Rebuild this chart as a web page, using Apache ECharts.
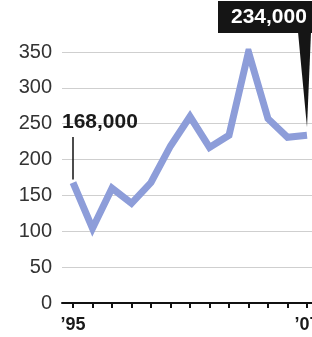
<!DOCTYPE html>
<html>
<head>
<meta charset="utf-8">
<script src="https://cdn.jsdelivr.net/npm/echarts@6/dist/echarts.min.js"></script>
<style>
  html, body { margin: 0; padding: 0; background: #fff; }
  #chart { width: 312px; height: 337px; }
</style>
</head>
<body>
<div id="chart"></div>
<script>
// data (thousands)
const years = ['1995', '1996', '1997', '1998', '1999', '2000', '2001', '2002', '2003', '2004', '2005', '2006', '2007'];
const values = [168, 104, 160, 139, 168, 219, 260, 217, 234, 350, 257, 231, 234];
const yTicks = [0, 50, 100, 150, 200, 250, 300, 350];
const callouts = ['168,000', '234,000'];

const FONT = '"Liberation Sans", Arial, sans-serif';
const chart = echarts.init(document.getElementById('chart'));

chart.setOption({
  animation: false,
  grid: [
    // grid 0: gridlines + y labels + base axis line, full width
    { left: 62, right: 0, top: 52, bottom: 34, containLabel: false, outerBoundsMode: 'none' },
    // grid 1: the data, first/last year inset
    { left: 73, right: 5, top: 52, bottom: 34, containLabel: false, outerBoundsMode: 'none' }
  ],
  xAxis: [
    {
      gridIndex: 0, type: 'value', min: 0, max: 1,
      axisLine: { show: true, onZero: false, lineStyle: { color: '#111', width: 2 } },
      axisTick: { show: false }, axisLabel: { show: false }, splitLine: { show: false }
    },
    {
      gridIndex: 1, type: 'category', data: years, boundaryGap: false,
      axisLine: { show: false },
      axisTick: { show: true, length: 5, alignWithLabel: true, interval: 0, lineStyle: { color: '#111', width: 2 } },
      axisLabel: {
        interval: (i) => i === 0 || i === years.length - 1,
        formatter: (v) => '\u2019' + v.slice(2),
        fontFamily: FONT, fontWeight: 'bold', fontSize: 18, color: '#1a1a1a', margin: 13
      },
      splitLine: { show: false }
    }
  ],
  yAxis: [
    {
      gridIndex: 0, type: 'value', min: yTicks[0], max: yTicks[yTicks.length - 1], interval: 50,
      axisLine: { show: false }, axisTick: { show: false },
      axisLabel: { fontFamily: FONT, fontSize: 20, color: '#333', margin: 10 },
      splitLine: { lineStyle: { color: '#cfcfcf', width: 1 } }
    },
    {
      gridIndex: 1, type: 'value', min: yTicks[0], max: yTicks[yTicks.length - 1], interval: 50,
      show: false
    }
  ],
  series: [{
    type: 'line',
    xAxisIndex: 1, yAxisIndex: 1,
    data: values,
    symbol: 'none',
    lineStyle: { color: '#8d9dd9', width: 7, join: 'miter' }
  }]
});

// callouts anchored to the first and last data points
const first = chart.convertToPixel({ xAxisIndex: 1, yAxisIndex: 1 }, [0, values[0]]);
const last = chart.convertToPixel({ xAxisIndex: 1, yAxisIndex: 1 }, [values.length - 1, values[values.length - 1]]);

chart.setOption({
  graphic: [
    {
      type: 'text', left: 62, top: 112, z: 10,
      style: { text: callouts[0], font: 'bold 21px ' + FONT, fill: '#1a1a1a' }
    },
    {
      type: 'line', z: 10,
      shape: { x1: first[0], y1: 137, x2: first[0], y2: first[1] - 3 },
      style: { stroke: '#111', lineWidth: 1.5 }
    },
    {
      type: 'rect', z: 10,
      shape: { x: 218, y: 1, width: 100, height: 32 },
      style: { fill: '#151515' }
    },
    {
      type: 'polygon', z: 10,
      shape: { points: [[298, 32], [311, 32], [last[0], last[1] - 8]] },
      style: { fill: '#151515' }
    },
    {
      type: 'text', left: 231, top: 7, z: 11,
      style: { text: callouts[1], font: 'bold 21px ' + FONT, fill: '#fff' }
    }
  ]
});
</script>
</body>
</html>
